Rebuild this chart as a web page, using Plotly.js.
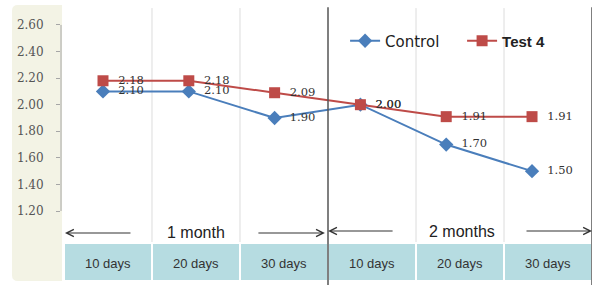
<!DOCTYPE html>
<html>
<head>
<meta charset="utf-8">
<script src="https://cdn.plot.ly/plotly-3.0.1.min.js"></script>
<style>html,body{margin:0;padding:0;background:#fff;}#chart{width:596px;height:285px;}</style>
</head>
<body>
<div id="chart"></div>
<script>
const categories = ['10 days', '20 days', '30 days', '10 days', '20 days', '30 days'];
const periods = ['1 month', '2 months'];
const controlValues = [2.10, 2.10, 1.90, 2.00, 1.70, 1.50];
const test4Values = [2.18, 2.18, 2.09, 2.00, 1.91, 1.91];
const yTicks = [1.20, 1.40, 1.60, 1.80, 2.00, 2.20, 2.40, 2.60];
const seriesNames = ['Control', 'Test 4'];

const xs = categories.map((_, i) => i);
const labelFont = {family: 'DejaVu Serif', size: 11.5, color: '#333'};
const pad = '\u00a0\u00a0';

const traces = [
  {
    x: xs, y: controlValues, name: seriesNames[0],
    type: 'scatter', mode: 'lines+markers+text',
    text: controlValues.map(v => pad + v.toFixed(2)), textposition: 'middle right',
    textfont: labelFont,
    line: {color: '#4a7ebb', width: 2},
    marker: {symbol: 'diamond', size: 11, color: '#4a7ebb'},
    cliponaxis: false, hoverinfo: 'skip'
  },
  {
    x: xs, y: test4Values,
    name: '<span style="font-family:Liberation Sans;font-weight:bold;font-size:15px">' + seriesNames[1] + '</span>',
    type: 'scatter', mode: 'lines+markers+text',
    text: test4Values.map(v => pad + v.toFixed(2)), textposition: 'middle right',
    textfont: labelFont,
    line: {color: '#be4b48', width: 2},
    marker: {symbol: 'square', size: 11, color: '#be4b48'},
    cliponaxis: false, hoverinfo: 'skip'
  }
];

const cellTop = -0.0042, cellBot = -0.1646;
const shapes = [];
shapes.push({
  type: 'path', xref: 'paper', yref: 'paper',
  path: 'M -0.081,1.0 L 0.002,1.0 L 0.002,-0.1646 L -0.081,-0.1646 Q -0.0923,-0.1646 -0.0923,-0.14 L -0.0923,0.975 Q -0.0923,1.0 -0.081,1.0 Z',
  fillcolor: '#f3f3e5', line: {width: 0}, layer: 'below'
});
shapes.push({type: 'line', xref: 'paper', yref: 'y', x0: 0, x1: 0, y0: yTicks[0], y1: yTicks[yTicks.length - 1],
  line: {color: '#a6a6a6', width: 1}});
categories.forEach((c, i) => {
  shapes.push({type: 'rect', xref: 'x2', yref: 'paper', x0: i - 0.5, x1: i + 0.5, y0: cellBot, y1: cellTop,
    fillcolor: '#b6dce1', line: {color: '#ffffff', width: 2}, layer: 'below'});
});
[0.5, 1.5, 3.5, 4.5].forEach(b => {
  shapes.push({type: 'line', xref: 'x2', yref: 'paper', x0: b, x1: b, y0: 0, y1: 0.987,
    line: {color: '#dcdcdc', width: 1}, layer: 'below'});
});
[2.5, 5.5].forEach(b => {
  shapes.push({type: 'line', xref: 'x2', yref: 'paper', x0: b, x1: b, y0: -0.181, y1: 0.99,
    line: {color: '#555555', width: 1.5}});
});

const annotations = [];
categories.forEach((c, i) => {
  annotations.push({xref: 'x2', yref: 'paper', x: i, y: -0.0928, text: c, showarrow: false,
    font: {family: 'Liberation Sans', size: 13, color: '#333'}, xanchor: 'center', yanchor: 'middle'});
});
annotations.push({xref: 'paper', yref: 'paper', x: 0.254, y: 0.038, text: periods[0], showarrow: false,
  font: {family: 'Liberation Sans', size: 16, color: '#222'}, xanchor: 'center', yanchor: 'middle'});
annotations.push({xref: 'paper', yref: 'paper', x: 0.755, y: 0.0464, text: periods[1], showarrow: false,
  font: {family: 'Liberation Sans', size: 16, color: '#222'}, xanchor: 'center', yanchor: 'middle'});
const arrows = [
  {x: 0.0075, y: 0.038, ax: 67},
  {x: 0.497, y: 0.038, ax: -68},
  {x: 0.503, y: 0.0464, ax: 66},
  {x: 1.0, y: 0.0464, ax: -67}
];
arrows.forEach(a => {
  annotations.push({xref: 'paper', yref: 'paper', x: a.x, y: a.y, ax: a.ax, ay: 0, text: '',
    showarrow: true, arrowhead: 5, arrowsize: 1.3, arrowwidth: 1.1, arrowcolor: '#333', standoff: 0});
});

const layout = {
  width: 596, height: 285,
  margin: {l: 61, r: 4, t: 5, b: 43, autoexpand: false},
  paper_bgcolor: '#ffffff', plot_bgcolor: 'rgba(0,0,0,0)',
  showlegend: true,
  legend: {
    orientation: 'h', x: 0.535, y: 0.848, xanchor: 'left', yanchor: 'middle',
    bgcolor: 'rgba(0,0,0,0)', entrywidth: 72, entrywidthmode: 'pixels',
    font: {family: 'DejaVu Sans', size: 15, color: '#222'}
  },
  xaxis: {range: [-0.4895, 5.699], visible: false, fixedrange: true},
  xaxis2: {range: [-0.534, 5.5], overlaying: 'x', visible: false, fixedrange: true},
  yaxis: {
    range: [0.967, 2.75], tickvals: yTicks, ticktext: yTicks.map(v => v.toFixed(2)),
    ticks: 'outside', ticklen: 4, tickcolor: '#a6a6a6', ticklabelstandoff: 10,
    showgrid: false, zeroline: false, showline: false,
    tickfont: {family: 'DejaVu Serif', size: 12, color: '#555'}
  },
  shapes: shapes,
  annotations: annotations
};

Plotly.newPlot('chart', traces, layout, {staticPlot: true, displayModeBar: false});
</script>
</body>
</html>
